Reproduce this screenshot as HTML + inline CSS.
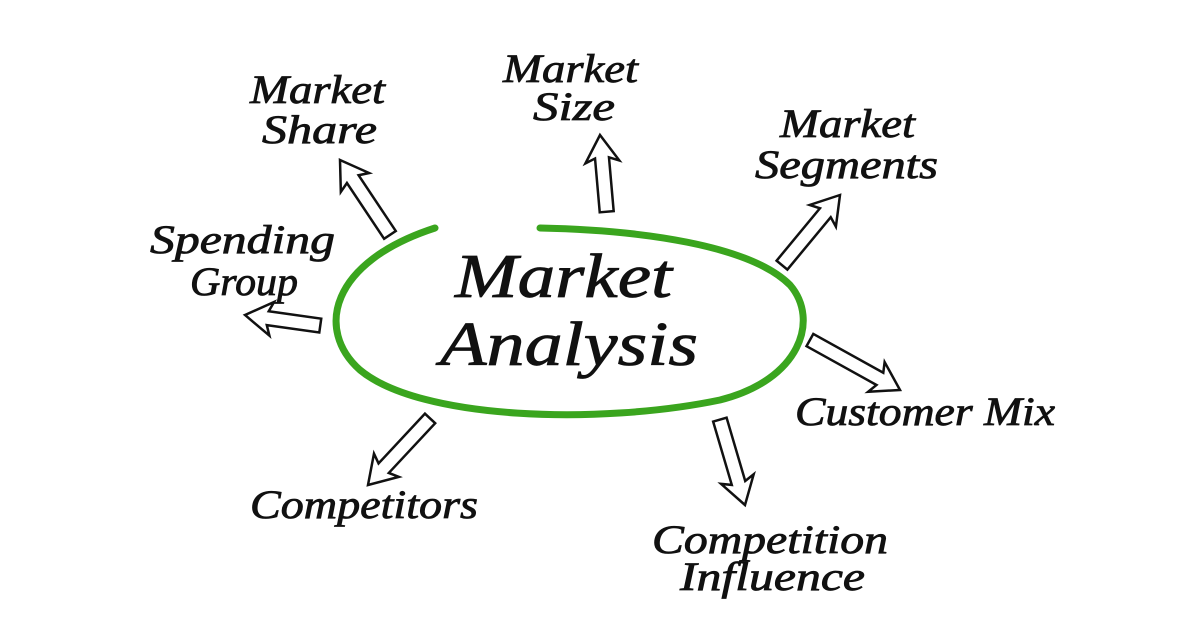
<!DOCTYPE html>
<html><head><meta charset="utf-8"><style>
html,body{margin:0;padding:0;background:#fff;}
svg{display:block}
text{font-family:"Liberation Serif","DejaVu Serif",serif;font-style:italic;fill:#111;stroke:#111;stroke-width:0.8;}
</style></head><body>
<svg width="1200" height="630" viewBox="0 0 1200 630">
<path d="M435,228 C330,262 315,330 360,370 C420,420 600,425 720,400 C800,380 820,320 790,285 C750,245 640,230 540,228" fill="none" stroke="#3aa51e" stroke-width="7" stroke-linecap="round"/>
<g transform="translate(340,160) rotate(-33.7)"><polygon points="0,0 17,27 7,23 7,90 -7,90 -7,23 -17,27" fill="#fff" stroke="#111" stroke-width="2.5"/></g>
<g transform="translate(600,135) rotate(-5)"><polygon points="0,0 17,27 7,23 7,77 -7,77 -7,23 -17,27" fill="#fff" stroke="#111" stroke-width="2.5"/></g>
<g transform="translate(840,195) rotate(39.6)"><polygon points="0,0 17,27 7,23 7,91 -7,91 -7,23 -17,27" fill="#fff" stroke="#111" stroke-width="2.5"/></g>
<g transform="translate(245,315) rotate(-82)"><polygon points="0,0 17,27 7,23 7,76 -7,76 -7,23 -17,27" fill="#fff" stroke="#111" stroke-width="2.5"/></g>
<g transform="translate(900,390) rotate(119)"><polygon points="0,0 17,27 7,23 7,103 -7,103 -7,23 -17,27" fill="#fff" stroke="#111" stroke-width="2.5"/></g>
<g transform="translate(745,505) rotate(163.6)"><polygon points="0,0 17,27 7,23 7,89 -7,89 -7,23 -17,27" fill="#fff" stroke="#111" stroke-width="2.5"/></g>
<g transform="translate(368,485) rotate(-137)"><polygon points="0,0 17,27 7,23 7,91 -7,91 -7,23 -17,27" fill="#fff" stroke="#111" stroke-width="2.5"/></g>

<text x="455" y="297" font-size="62" textLength="217" lengthAdjust="spacingAndGlyphs">Market</text>
<text x="440" y="365" font-size="62" textLength="258" lengthAdjust="spacingAndGlyphs">Analysis</text>

<text x="250" y="103" font-size="40" textLength="135" lengthAdjust="spacingAndGlyphs">Market</text>
<text x="262" y="143" font-size="40" textLength="115" lengthAdjust="spacingAndGlyphs">Share</text>
<text x="503" y="82" font-size="40" textLength="135" lengthAdjust="spacingAndGlyphs">Market</text>
<text x="533" y="120" font-size="40" textLength="82" lengthAdjust="spacingAndGlyphs">Size</text>
<text x="780" y="137" font-size="40" textLength="135" lengthAdjust="spacingAndGlyphs">Market</text>
<text x="755" y="178" font-size="40" textLength="183" lengthAdjust="spacingAndGlyphs">Segments</text>
<text x="150" y="253" font-size="40" textLength="185" lengthAdjust="spacingAndGlyphs">Spending</text>
<text x="190" y="295" font-size="40" textLength="108" lengthAdjust="spacingAndGlyphs">Group</text>
<text x="795" y="425" font-size="40" textLength="260" lengthAdjust="spacingAndGlyphs">Customer Mix</text>
<text x="250" y="518" font-size="40" textLength="228" lengthAdjust="spacingAndGlyphs">Competitors</text>
<text x="652" y="553" font-size="40" textLength="236" lengthAdjust="spacingAndGlyphs">Competition</text>
<text x="680" y="590" font-size="40" textLength="185" lengthAdjust="spacingAndGlyphs">Influence</text>
</svg>
</body></html>
